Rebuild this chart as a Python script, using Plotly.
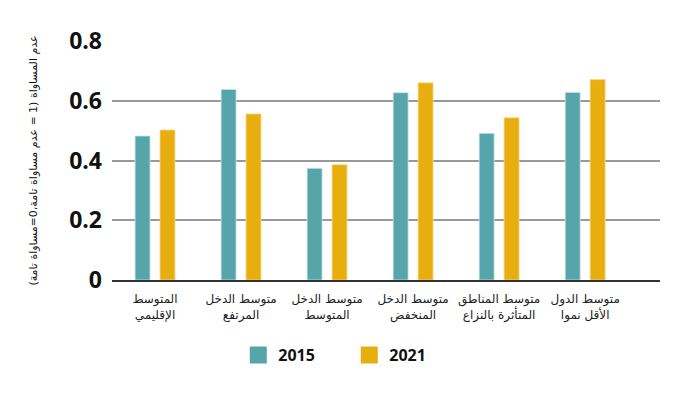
import plotly.graph_objects as go

categories = [
    "المتوسط<br>الإقليمي",
    "متوسط الدخل<br>المرتفع",
    "متوسط الدخل<br>المتوسط",
    "متوسط الدخل<br>المنخفض",
    "متوسط المناطق<br>المتأثرة بالنزاع",
    "متوسط الدول<br>الأقل نموا",
]
values_2015 = [0.482, 0.638, 0.374, 0.627, 0.491, 0.628]
values_2021 = [0.502, 0.556, 0.386, 0.660, 0.543, 0.671]
series_names = ["2015", "2021"]
y_ticks = [0, 0.2, 0.4, 0.6, 0.8]
y_tick_labels = ["0", "0.2", "0.4", "0.6", "0.8"]
y_title = "عدم المساواة (1 = عدم مساواة تامة،0=مساواة تامة)"

TEAL = "#55A5AA"
GOLD = "#E8AE10"

fig = go.Figure()
fig.add_trace(go.Bar(name=series_names[0], x=categories, y=values_2015, showlegend=False,
                     marker=dict(color=TEAL, line=dict(color="#CFE6E6", width=0.8))))
fig.add_trace(go.Bar(name=series_names[1], x=categories, y=values_2021, showlegend=False,
                     marker=dict(color=GOLD, line=dict(color="#F5DA8A", width=0.8))))
# legend entries with larger swatches (on a hidden axis pair so they do not take bar slots)
for name, col in zip(series_names, [TEAL, GOLD]):
    fig.add_trace(go.Bar(name=name, x=[None], y=[None], xaxis="x2", yaxis="y2",
                         marker=dict(color=col, line=dict(color=col, width=9))))

fig.update_layout(
    width=682, height=389,
    margin=dict(l=104, r=30, t=33, b=117),
    paper_bgcolor="white", plot_bgcolor="white",
    barmode="group", bargap=0.42, bargroupgap=0.4,
    font=dict(family="DejaVu Sans, Noto Sans", color="#111"),
    showlegend=True,
    legend=dict(orientation="h", x=0.433, xanchor="center", y=-0.314, yanchor="middle",
                font=dict(family="Open Sans", size=16, weight="bold", color="#111"),
                entrywidth=66, traceorder="normal"),
    xaxis2=dict(visible=False, overlaying="x", fixedrange=True),
    yaxis2=dict(visible=False, overlaying="y", fixedrange=True),
)
fig.layout.xaxis.update(
    type="category", range=[-0.5, 5.87], automargin=False,
    showline=True, linecolor="#333", linewidth=2,
    showgrid=False, ticks="", ticklabelstandoff=7,
    tickfont=dict(family="DejaVu Sans", size=12, color="#222"),
    fixedrange=True,
)
fig.layout.yaxis.update(
    range=[0, 0.8], tickvals=y_ticks, ticktext=y_tick_labels, automargin=False,
    showgrid=True, gridcolor="#999", gridwidth=1.8,
    zeroline=False, showline=False, ticks="",
    ticklabelstandoff=9,
    tickfont=dict(family="Open Sans", size=23, weight="bold", color="#111"),
    title=dict(text=y_title, font=dict(family="DejaVu Sans", size=11, color="#111"), standoff=29),
    fixedrange=True,
)

fig.write_html("out.html")
